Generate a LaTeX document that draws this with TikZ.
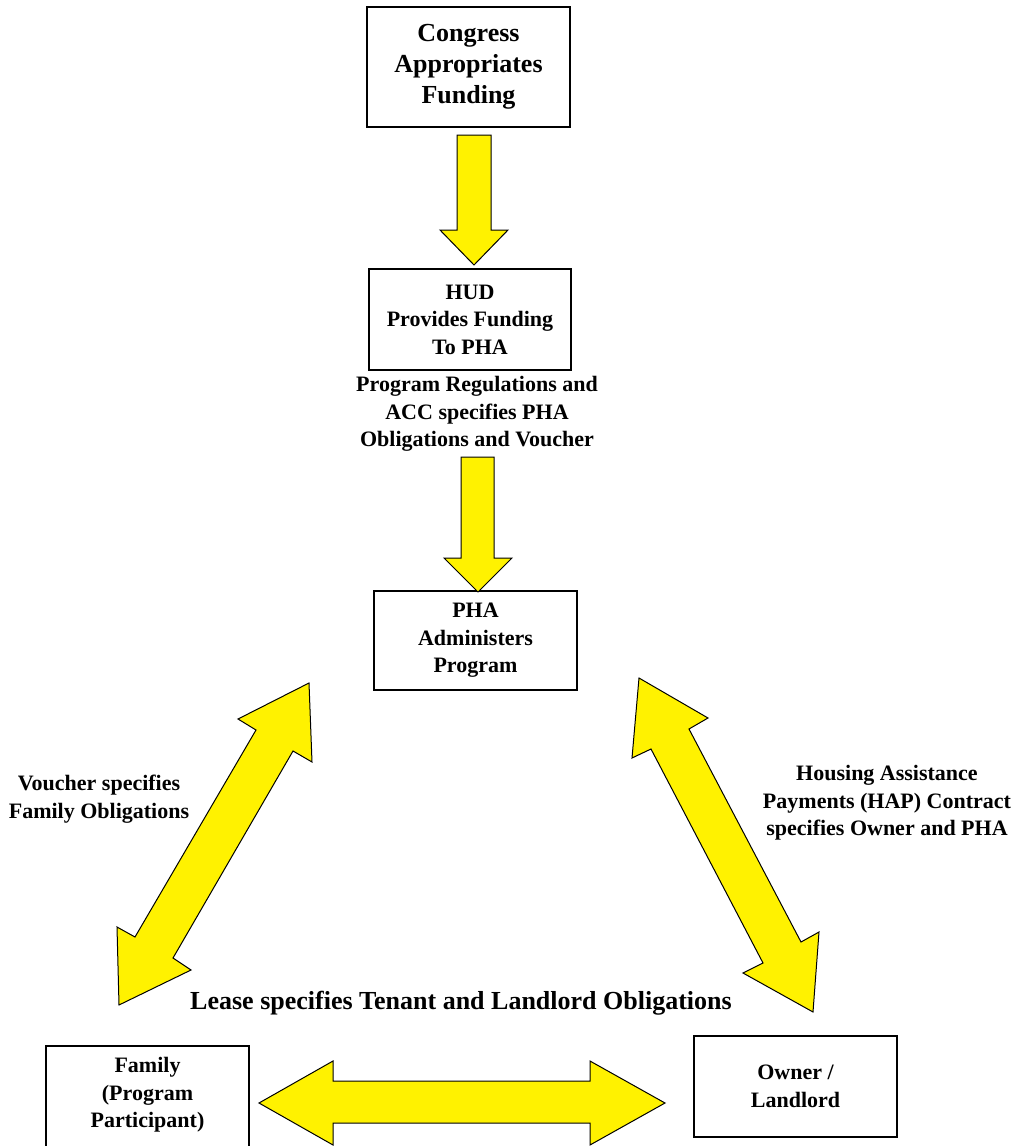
\documentclass[tikz,border=0pt]{standalone}
\usepackage{fontspec}
\setmainfont{Liberation Serif}
\begin{document}
\begin{tikzpicture}[x=1pt,y=-1pt,
  box/.style={draw=black,line width=1.2pt,inner sep=0pt,align=center},
  big/.style={font=\bfseries\fontsize{26}{31}\selectfont,align=center},
  txt/.style={font=\bfseries\fontsize{22}{27.5}\selectfont,align=center},
  blockarrow/.style={fill=yellow,draw=black,line width=1pt,line join=miter}]
\useasboundingbox (0,0) rectangle (1013,1146);
\clip (0,0) rectangle (1013,1146);
% boxes
\node[box,big,minimum width=203pt,minimum height=120pt] (congress) at (468.5,67) {Congress\\Appropriates\\Funding};
\node[box,txt,minimum width=202pt,minimum height=101pt] (hud) at (470,319.5) {HUD\\Provides Funding\\To PHA};
\node[txt] (acc) at (477,414) {Program Regulations and\\ACC specifies PHA\\Obligations and Voucher};
\node[box,txt,minimum width=203pt,minimum height=99pt] (pha) at (475.5,640.5) {PHA\\Administers\\Program};
\node[txt] (voucher) at (99,799) {Voucher specifies\\Family Obligations};
\node[txt] (hap) at (887,803) {Housing Assistance\\Payments (HAP) Contract\\specifies Owner and PHA};
\node[big] (lease) at (461,1003) {Lease specifies Tenant and Landlord Obligations};
\node[box,minimum width=203pt,minimum height=120pt] (family) at (147.5,1106) {};
\node[txt] (familytext) at (147.5,1095) {Family\\(Program\\Participant)};
\node[box,txt,minimum width=203pt,minimum height=101pt] (owner) at (795.5,1086.5) {Owner /\\Landlord};
% block arrows
\filldraw[blockarrow] (457,135) -- (491,135) -- (491,230) -- (508,230) -- (474,265) -- (440,230) -- (457,230) -- cycle;
\filldraw[blockarrow] (461,457) -- (494,457) -- (494,558) -- (512,558) -- (478,592) -- (444,558) -- (461,558) -- cycle;
\filldraw[blockarrow] (259,1103) -- (333,1061) -- (333,1081) -- (590,1081) -- (590,1061) -- (665,1103) -- (590,1145) -- (590,1123) -- (333,1123) -- (333,1145) -- cycle;
\filldraw[blockarrow] (309,683) -- (312,762) -- (293,751) -- (173,958) -- (191,970) -- (119,1005) -- (117,927) -- (135,937) -- (256,730) -- (238,719) -- cycle;
\filldraw[blockarrow] (639,678) -- (708,718) -- (689,729) -- (801,942) -- (819,932) -- (813,1012) -- (743,973) -- (763,963) -- (651,749) -- (632,758) -- cycle;
\end{tikzpicture}
\end{document}
